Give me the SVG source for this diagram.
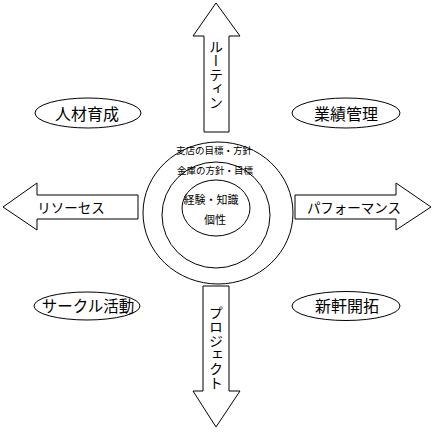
<svg xmlns="http://www.w3.org/2000/svg" width="435" height="434" viewBox="0 0 435 434">
<style>
.s{fill:#fff;stroke:#000;stroke-width:1}
.t{font-family:"Noto Sans CJK JP","Noto Sans CJK SC",sans-serif;fill:#000;text-anchor:middle;dominant-baseline:central}
.v{writing-mode:vertical-rl;text-anchor:start}
</style>
<rect width="435" height="434" fill="#fff"/>
<g id="connectors">
<g id="arrow-up"><polygon class="s" points="216,3 240,36 229,36 229,132 204,132 204,36 193,36"/><text class="t v" x="216" y="40" font-size="14">ルーティン</text></g>
<g id="arrow-down"><polygon class="s" points="203,286 229,286 229,391 240,391 216,427 193,391 203,391"/><text class="t v" x="216" y="306" font-size="14">プロジェクト</text></g>
<g id="arrow-left"><polygon class="s" points="3,207 37,183 37,195 138,195 138,219 37,219 37,230"/><text class="t" x="71" y="207" font-size="13.5">リソーセス</text></g>
<g id="arrow-right"><polygon class="s" points="295,195 396,195 396,183 431,207 396,230 396,219 295,219"/><text class="t" x="354" y="207" font-size="13.5">パフォーマンス</text></g>
</g>
<g id="core">
<ellipse class="s" cx="218" cy="213" rx="75" ry="71"/>
<ellipse class="s" cx="216" cy="215" rx="54" ry="53"/>
<ellipse class="s" cx="216" cy="208" rx="34" ry="28"/>
<text class="t" x="214" y="150" font-size="9.5">支店の目標・方針</text>
<text class="t" x="215" y="170" font-size="9.5">金庫の方針・目標</text>
<text class="t" x="211" y="199" font-size="11">経験・知識</text>
<text class="t" x="215" y="219" font-size="11">個性</text>
</g>
<g id="node-jinzai"><ellipse class="s" cx="88" cy="113" rx="53" ry="15"/><text class="t" x="87" y="113" font-size="16">人材育成</text></g>
<g id="node-gyoseki"><ellipse class="s" cx="346" cy="113" rx="54" ry="15"/><text class="t" x="346" y="113" font-size="16">業績管理</text></g>
<g id="node-circle"><ellipse class="s" cx="87" cy="306" rx="53" ry="14"/><text class="t" x="88" y="305" font-size="15.5">サークル活動</text></g>
<g id="node-shinki"><ellipse class="s" cx="346" cy="306" rx="54" ry="14.5"/><text class="t" x="347" y="305" font-size="16">新軒開拓</text></g>
</svg>
